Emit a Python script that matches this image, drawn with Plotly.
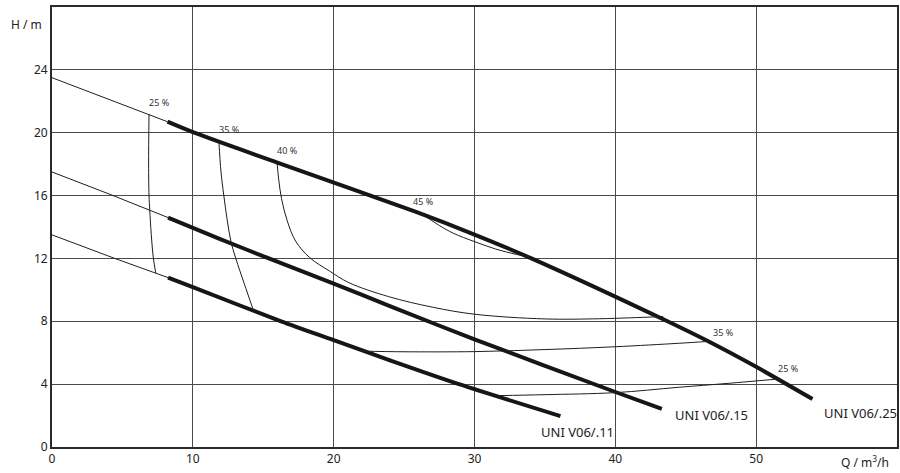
import plotly.graph_objects as go

# Pump curves (Q m3/h, H m) - thin extrapolated part and thick operating part
p11_thin_q = [0, 4.46, 8.24]
p11_thin_h = [13.5, 12.0, 10.78]
p11_q = [8.24, 10, 16.27, 20, 23.9, 28.9, 36.1]
p11_h = [10.78, 10.17, 8.0, 6.8, 5.55, 4.0, 1.97]

p15_thin_q = [0, 4.2, 8.24]
p15_thin_h = [17.5, 16.05, 14.6]
p15_q = [8.24, 11.9, 15.4, 20, 23.9, 30, 40, 43.3]
p15_h = [14.6, 13.25, 12.0, 10.4, 9.0, 6.85, 3.5, 2.42]

p25_thin_q = [0, 4, 8.2]
p25_thin_h = [23.5, 22.15, 20.7]
p25_q = [8.2, 10.1, 16, 25.85, 30, 34, 43.7, 46.7, 50, 54]
p25_h = [20.7, 20.0, 18.1, 14.96, 13.52, 12.02, 8.0, 6.68, 5.1, 3.05]

# Efficiency iso-curves
e25a_q = [6.89, 6.86, 6.89, 6.94, 7.05, 7.2, 7.37]
e25a_h = [21.18, 18.0, 16.0, 15.1, 13.5, 12.0, 11.06]
e35a_q = [11.85, 12.0, 12.2, 12.44, 12.7, 13.05, 13.65, 14.26]
e35a_h = [19.45, 17.5, 16.0, 14.45, 13.1, 12.0, 10.4, 8.8]
e40_q = [15.98, 16.1, 16.3, 16.7, 17.3, 18.3, 19.7, 21.1, 23.9, 27, 30, 35, 38.8, 41, 43.4]
e40_h = [18.12, 17.0, 15.8, 14.4, 13.1, 12.05, 11.2, 10.45, 9.57, 8.9, 8.45, 8.15, 8.16, 8.22, 8.3]
e45_q = [26.2, 27.5, 28.5, 30, 31.5, 33, 33.85]
e45_h = [14.87, 14.1, 13.6, 13.07, 12.6, 12.25, 12.1]
e35b_q = [22.0, 25, 30, 35, 40, 44.5, 46.6]
e35b_h = [6.1, 6.06, 6.07, 6.2, 6.38, 6.6, 6.72]
e25b_q = [31.7, 35, 40, 44.5, 48, 51.6]
e25b_h = [3.27, 3.33, 3.46, 3.8, 4.05, 4.33]

# Efficiency labels
eff_text = ["25 %", "35 %", "40 %", "45 %", "35 %", "25 %"]
eff_q = [7.6, 12.6, 16.7, 26.4, 47.7, 52.3]
eff_h = [21.9, 20.2, 18.9, 15.65, 7.3, 5.0]

# Pump labels
pump_text = ["UNI V06/.11", "UNI V06/.15", "UNI V06/.25"]
pump_q = [34.6, 44.1, 54.7]
pump_h = [0.97, 2.04, 2.15]

x_ticks = [0, 10, 20, 30, 40, 50]
y_ticks = [0, 4, 8, 12, 16, 20, 24]

fig = go.Figure()

thin = dict(color="#1e1e1e", width=1)
thick = dict(color="#161616", width=4)

for q, h in [(p11_thin_q, p11_thin_h), (p15_thin_q, p15_thin_h), (p25_thin_q, p25_thin_h)]:
    fig.add_trace(go.Scatter(x=q, y=h, mode="lines", line=thin, hoverinfo="skip"))
for q, h in [(p11_q, p11_h), (p15_q, p15_h), (p25_q, p25_h)]:
    fig.add_trace(go.Scatter(x=q, y=h, mode="lines", line=dict(thick, shape="spline", smoothing=0.8), hoverinfo="skip"))
for q, h in [(e25a_q, e25a_h), (e35a_q, e35a_h), (e40_q, e40_h), (e45_q, e45_h), (e35b_q, e35b_h), (e25b_q, e25b_h)]:
    fig.add_trace(go.Scatter(x=q, y=h, mode="lines", line=dict(thin, shape="spline", smoothing=1.0), hoverinfo="skip"))

for t, q, h in zip(eff_text, eff_q, eff_h):
    fig.add_annotation(x=q, y=h, text=t, showarrow=False, font=dict(size=9, color="#333"), xanchor="center", yanchor="middle")
for t, q, h in zip(pump_text, pump_q, pump_h):
    fig.add_annotation(x=q, y=h, text=t, showarrow=False, font=dict(size=13, color="#222"), xanchor="left", yanchor="middle")

fig.add_annotation(xref="paper", yref="y", x=0, y=26.9, text="H / m", showarrow=False,
                   xanchor="right", yanchor="middle", xshift=-8, font=dict(size=12, color="#222"))
fig.add_annotation(xref="x", yref="paper", x=59.6, y=0, text="Q / m<sup>3</sup>/h", showarrow=False,
                   xanchor="right", yanchor="top", yshift=-4, font=dict(size=12, color="#222"))

fig.update_layout(
    width=900, height=473,
    margin=dict(l=52, r=1, t=7, b=26),
    paper_bgcolor="white", plot_bgcolor="white",
    showlegend=False,
    font=dict(family="Noto Sans, Open Sans, sans-serif", color="#222"),
)
fig.update_xaxes(range=[0, 60], tickvals=x_ticks, ticktext=[str(v) for v in x_ticks],
                 showgrid=True, gridcolor="#4a4a4a", gridwidth=1.3, zeroline=False,
                 showline=True, linecolor="#2a2a2a", linewidth=1.8, mirror=True,
                 ticks="", tickfont=dict(size=12, color="#222"))
fig.update_yaxes(range=[0, 28], tickvals=y_ticks, ticktext=[str(v) for v in y_ticks],
                 showgrid=True, gridcolor="#4a4a4a", gridwidth=1.3, zeroline=False,
                 showline=True, linecolor="#2a2a2a", linewidth=1.8, mirror=True,
                 ticks="", tickfont=dict(size=12, color="#222"))

fig.write_html("out.html", config={"displayModeBar": False},
               post_script="document.body.style.margin='0';document.body.style.overflow='hidden';")
